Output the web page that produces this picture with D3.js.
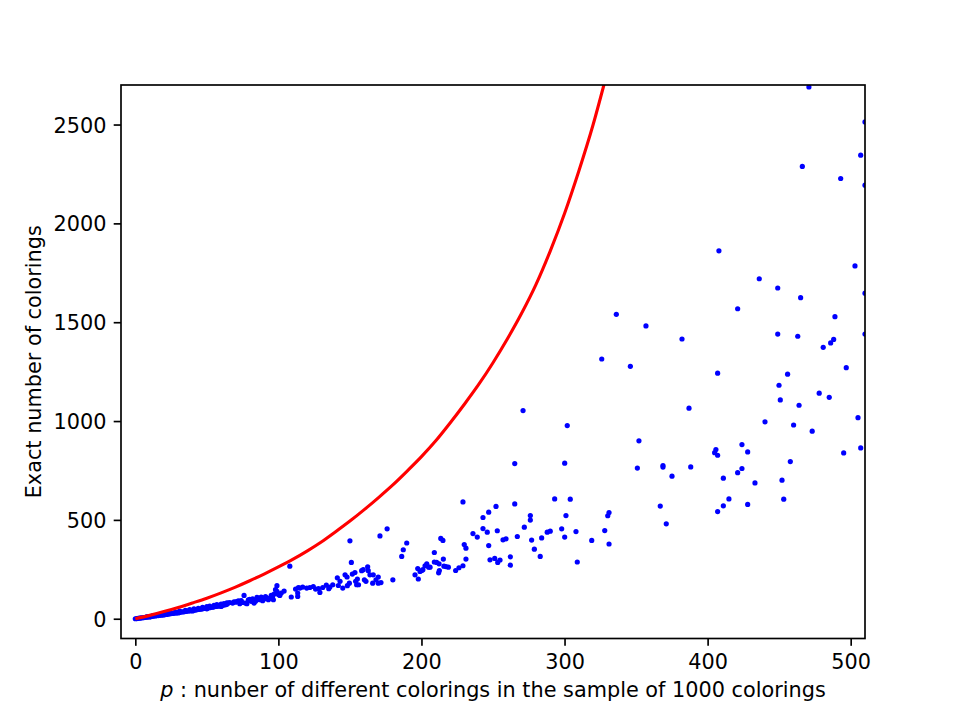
<!DOCTYPE html>
<html>
<head>
<meta charset="utf-8">
<script src="https://cdn.jsdelivr.net/npm/d3@7"></script>
<style>
  body { margin: 0; background: #fff; }
  text { font-family: 'DejaVu Sans', sans-serif; fill: #000; }
</style>
</head>
<body>
<svg id="chart"></svg>
<script>
const width = 961;
const height = 719;

// red curve as [p, count]
const boundCurve = [
    [0, 0], [10, 17], [20, 36], [30, 57], [40, 80], [50, 104], [60, 131], [70, 160],
    [80, 192], [90, 226], [100, 262], [110, 300], [120, 342], [130, 388], [140, 440],
    [150, 494], [160, 552], [170, 613], [180, 677], [190, 747], [200, 820], [210, 900],
    [220, 990], [230, 1085], [240, 1185], [250, 1295], [260, 1415], [270, 1545],
    [280, 1690], [290, 1860], [300, 2050], [310, 2265], [320, 2500], [327.5, 2700], [335, 2910]
];

// blue samples [p, exact count]
const samplesDense = [
    [0, 0], [1, 1], [2, 2], [3, 3], [4, 4], [5, 5], [6, 6], [7, 7], [8, 8], [9, 10], [10, 10],
    [11, 11], [12, 12], [13, 14], [14, 14], [15, 16], [16, 16], [17, 18], [18, 18], [19, 20],
    [20, 21], [21, 22], [22, 22], [23, 24], [24, 25], [25, 26], [26, 27], [27, 28], [28, 29],
    [29, 30], [30, 32], [31, 32], [32, 34], [33, 35], [34, 35], [35, 37], [36, 38], [37, 39],
    [38, 40], [39, 41], [40, 42], [41, 44], [42, 44], [43, 46], [44, 47], [45, 48], [46, 49],
    [47, 50], [48, 52], [49, 52], [50, 54], [51, 55], [52, 56], [53, 58], [54, 58], [55, 60],
    [56, 62], [57, 63], [58, 64], [59, 66], [60, 67], [61, 68], [62, 70], [63, 71], [64, 73],
    [8, 10], [12, 15], [16, 20], [20, 25], [24, 29], [28, 34], [31, 38], [35, 43], [38, 46],
    [41, 50], [44, 53], [47, 58], [50, 62], [52, 64], [55, 68], [57, 71], [60, 74], [62, 77],
    [64, 80], [10, 9], [20, 19], [30, 29], [40, 39], [50, 50], [60, 62]
];

const samplesLow = [
    [65, 79], [66, 82], [68, 79], [69, 86], [70, 84], [71, 87], [72, 90], [73, 76], [74, 92],
    [75, 82], [76, 118], [77, 79], [78, 76], [79, 95], [80, 98], [81, 88], [82, 100], [83, 79],
    [84, 88], [85, 108], [86, 104], [87, 96], [88, 110], [89, 91], [90, 100], [91, 112],
    [92, 105], [93, 96], [94, 104], [95, 118], [96, 113], [96.5, 96], [97, 125], [98, 147],
    [99, 167], [99, 138], [100, 122], [101, 118], [102, 130], [104, 140],
    [108, 266], [109, 110], [112, 150], [113.5, 130], [113.5, 113], [114, 158], [115, 155],
    [117, 160], [119.8, 155], [122, 158], [124.4, 163], [126, 150], [128, 153], [129, 133],
    [131, 158], [133.5, 170], [135.2, 152], [136, 160], [138, 172], [141.2, 207], [141.9, 168],
    [143.1, 189], [145, 155], [146.6, 222], [148, 211], [148.2, 167], [149.6, 180], [150, 394],
    [151, 285], [151.7, 226], [153.5, 234], [154, 189], [154.7, 172], [155.2, 201], [156, 172],
    [158.2, 243], [159.3, 248], [160.1, 197], [161.2, 189], [162.4, 263], [162.8, 243], [164, 222],
    [165.9, 180], [166.3, 222], [168.2, 197], [169.8, 180], [169.8, 211], [171, 419], [171.7, 183],
    [176, 455], [180, 197]
];

const samplesMid = [
    [186.2, 315], [187.3, 349], [189.7, 383], [195.5, 222], [197.4, 254], [197.8, 201], [199, 239],
    [200.2, 244], [201, 248], [202.5, 268], [203.7, 278], [205, 261], [206, 261], [209, 335],
    [209, 287], [210.6, 285], [212, 232], [212.3, 278], [212.5, 244], [213.5, 406], [215, 396],
    [215.3, 302], [215.7, 266], [217.1, 264], [218.8, 261], [223.9, 244], [226.2, 258], [229, 268],
    [229, 591], [229.9, 375], [231.1, 302], [231.1, 357], [236, 431], [239, 413],
    [243, 512], [243, 456], [246, 438], [247, 539], [247, 370], [247.9, 298], [251.2, 305],
    [252.1, 568], [253, 445], [253.3, 285], [254.9, 297], [257, 399], [259.1, 404], [262.1, 313],
    [262.1, 271], [265.2, 785], [265.2, 581], [267, 416], [271, 1053], [271.9, 463], [276.1, 522],
    [276.1, 499], [277, 398], [278.9, 352], [283, 315], [284, 409], [287.9, 438], [290, 443],
    [293.1, 606], [298, 455], [300.1, 787], [300.1, 413], [301, 522], [301.9, 977], [304, 605],
    [308, 441], [308.9, 287]
];

const samplesHigh = [
    [319, 396], [326, 1314], [328.1, 446], [330.2, 521], [331.1, 537], [331.1, 378], [336.2, 1540],
    [346, 1277], [350.9, 762], [352, 900], [356.9, 1481], [366.9, 570], [368.8, 775], [368.8, 767],
    [371.1, 480], [375.1, 721], [382.1, 1415], [387, 1065], [388.2, 768],
    [404.9, 840], [405.8, 856], [407, 827], [407, 1242], [407, 542], [407.9, 1861], [411, 711],
    [411, 571], [414.9, 606], [421, 1568], [421, 739], [424, 881], [424, 760], [428, 844],
    [428, 578], [433.1, 687], [436.1, 1720], [440.1, 996], [449, 1673], [449, 1440], [449.9, 1181],
    [450.8, 1107], [452, 701], [453.2, 605], [455.9, 1237], [457.8, 795], [460.1, 980], [463, 1429],
    [463.9, 1080], [465, 1624], [466.2, 2288], [470.8, 2690], [473.1, 949], [478, 1141],
    [480.8, 1373], [485, 1120], [486, 1395], [488.1, 1413], [489, 1528], [493, 2227], [495.1, 839],
    [496.9, 1270], [503, 1785], [505.1, 1017], [507, 2345], [507, 864],
    [510, 2513], [510, 2193], [510, 1647], [510, 1440]
];

const xTicks = [0, 100, 200, 300, 400, 500];
const yTicks = [0, 500, 1000, 1500, 2000, 2500];
const xLabel = ' : nunber of different colorings in the sample of 1000 colorings';
const yLabel = 'Exact number of colorings';

const margin = { left: 121, right: 865, top: 85, bottom: 638.5 };
const fontSize = 20.8;
const tickLen = 7.3;

const drawChart = () => {
    const svg = d3.select('#chart')
        .attr('width', width)
        .attr('height', height);

    const x = d3.scaleLinear().domain([-10, 510]).range([margin.left, margin.right]);
    const y = d3.scaleLinear().domain([-100, 2700]).range([margin.bottom, margin.top]);

    svg.append('clipPath').attr('id', 'plot-clip')
        .append('rect')
        .attr('x', margin.left).attr('y', margin.top)
        .attr('width', margin.right - margin.left)
        .attr('height', margin.bottom - margin.top);

    const plot = svg.append('g').attr('clip-path', 'url(#plot-clip)');

    const samples = [].concat(samplesDense, samplesLow, samplesMid, samplesHigh);
    plot.selectAll('circle')
        .data(samples)
        .enter().append('circle')
        .attr('cx', d => x(d[0]))
        .attr('cy', d => y(d[1]))
        .attr('r', 2.6)
        .style('fill', '#0000ff');

    const line = d3.line()
        .x(d => x(d[0]))
        .y(d => y(d[1]))
        .curve(d3.curveMonotoneX);

    plot.append('path')
        .datum(boundCurve)
        .attr('d', line)
        .style('fill', 'none')
        .style('stroke', '#ff0000')
        .style('stroke-width', 3.1);

    // axes
    const xAxis = svg.append('g')
        .attr('transform', `translate(0, ${margin.bottom})`)
        .call(d3.axisBottom(x).tickValues(xTicks).tickSize(tickLen).tickPadding(tickLen).tickFormat(d3.format('d')));
    const yAxis = svg.append('g')
        .attr('transform', `translate(${margin.left}, 0)`)
        .call(d3.axisLeft(y).tickValues(yTicks).tickSize(tickLen).tickPadding(tickLen).tickFormat(d3.format('d')));

    [xAxis, yAxis].forEach(ax => {
        ax.select('.domain').remove();
        ax.selectAll('.tick line').style('stroke', '#000').style('stroke-width', 1.67);
        ax.selectAll('.tick text')
            .style('font-family', "'DejaVu Sans', sans-serif")
            .style('font-size', fontSize + 'px')
            .style('fill', '#000');
    });
    xAxis.selectAll('.tick text').attr('dy', '0.78em');
    yAxis.selectAll('.tick text').attr('dy', '0.36em');

    // frame
    svg.append('rect')
        .attr('x', margin.left).attr('y', margin.top)
        .attr('width', margin.right - margin.left)
        .attr('height', margin.bottom - margin.top)
        .style('fill', 'none')
        .style('stroke', '#000')
        .style('stroke-width', 1.67);

    const xl = svg.append('text')
        .attr('x', (margin.left + margin.right) / 2)
        .attr('y', 697)
        .attr('text-anchor', 'middle')
        .style('font-size', fontSize + 'px');
    xl.append('tspan').style('font-style', 'italic').text('p');
    xl.append('tspan').text(xLabel);

    svg.append('text')
        .attr('transform', `translate(41, ${(margin.top + margin.bottom) / 2}) rotate(-90)`)
        .attr('text-anchor', 'middle')
        .style('font-size', fontSize + 'px')
        .text(yLabel);
};

drawChart();
</script>
</body>
</html>
